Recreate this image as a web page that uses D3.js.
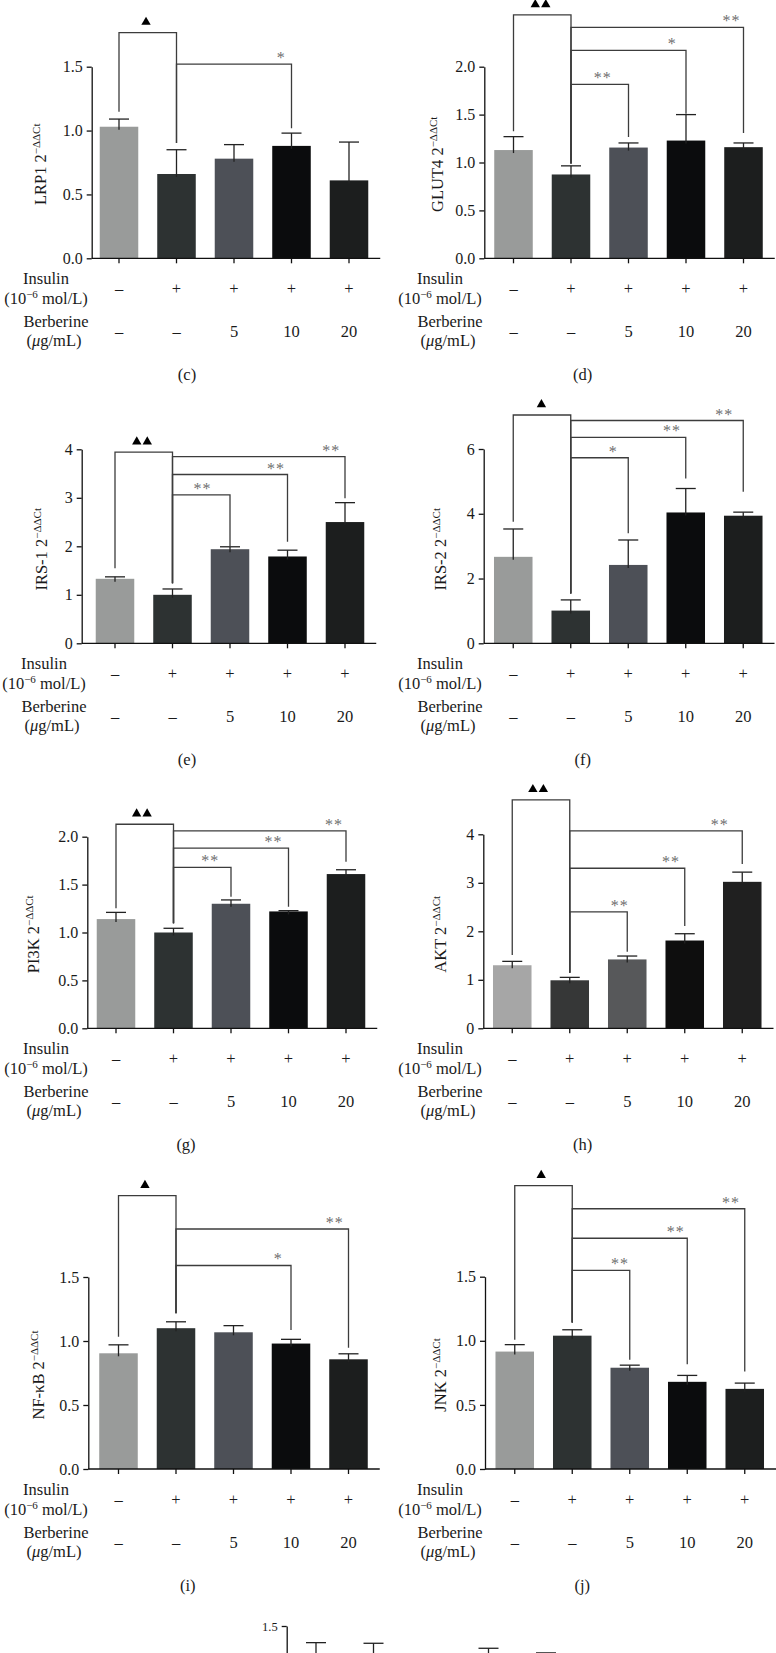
<!DOCTYPE html>
<html><head><meta charset="utf-8">
<script src="https://cdn.jsdelivr.net/npm/d3@7"></script>
<style>
body{margin:0;background:#fff}
svg{display:block}
text{font-family:"Liberation Serif","Times New Roman",serif;fill:#1a1a1a}
</style>
</head><body>
<svg id="chart" width="776" height="1653"></svg>
<script>
// ---------- data ----------
const groups = ["Control", "Insulin", "Insulin+BBR 5", "Insulin+BBR 10", "Insulin+BBR 20"];
const insulinSigns = ["–", "+", "+", "+", "+"];
const berberineDoses = ["–", "–", "5", "10", "20"];

const lrp1Mean = [1.03, 0.66, 0.78, 0.88, 0.61];
const lrp1Sd   = [0.06, 0.19, 0.11, 0.10, 0.30];
const lrp1Ticks = [0, 0.5, 1.0, 1.5];
// [from, to, bracket top, left leg end, right leg end, mark, label position along bracket]
const lrp1Sig = [[0, 1, 1.767, 1.148, 0.903, "▲", 0.47], [1, 3, 1.52, 0.903, 1.018, "*", 0.91]];

const glut4Mean = [1.13, 0.875, 1.156, 1.229, 1.16];
const glut4Sd   = [0.14, 0.09, 0.048, 0.271, 0.044];
const glut4Ticks = [0, 0.5, 1.0, 1.5, 2.0];
const glut4Sig = [[0, 1, 2.54, 1.326, 0.99, "▲▲", 0.47], [1, 4, 2.41, 0.99, 1.308, "**", 0.93],
                  [1, 3, 2.17, 0.99, 1.51, "*", 0.88], [1, 2, 1.815, 0.99, 1.267, "**", 0.55]];

const irs1Mean = [1.33, 1.0, 1.94, 1.79, 2.5];
const irs1Sd   = [0.04, 0.12, 0.05, 0.13, 0.40];
const irs1Ticks = [0, 1, 2, 3, 4];
const irs1Sig = [[0, 1, 3.94, 1.546, 1.237, "▲▲", 0.47], [1, 4, 3.85, 1.237, 2.99, "**", 0.92],
                 [1, 3, 3.48, 1.237, 2.095, "**", 0.9], [1, 2, 3.06, 1.237, 1.99, "**", 0.52]];

const irs2Mean = [2.67, 1.01, 2.42, 4.04, 3.94];
const irs2Sd   = [0.86, 0.33, 0.77, 0.74, 0.11];
const irs2Ticks = [0, 2, 4, 6];
const irs2Sig = [[0, 1, 7.05, 3.75, 1.54, "▲", 0.49], [1, 4, 6.88, 1.54, 4.68, "**", 0.89],
                 [1, 3, 6.36, 1.54, 5.09, "**", 0.88], [1, 2, 5.73, 1.54, 3.40, "*", 0.74]];

const pi3kMean = [1.14, 1.0, 1.30, 1.22, 1.61];
const pi3kSd   = [0.07, 0.044, 0.04, 0.008, 0.045];
const pi3kTicks = [0, 0.5, 1.0, 1.5, 2.0];
const pi3kSig = [[0, 1, 2.13, 1.253, 1.096, "▲▲", 0.45], [1, 4, 2.06, 1.096, 1.739, "**", 0.93],
                 [1, 3, 1.88, 1.096, 1.269, "**", 0.87], [1, 2, 1.68, 1.096, 1.374, "**", 0.64]];

const aktMean = [1.30, 0.99, 1.42, 1.81, 3.02];
const aktSd   = [0.08, 0.06, 0.07, 0.14, 0.20];
const aktTicks = [0, 1, 2, 3, 4];
const aktSig = [[0, 1, 4.71, 1.511, 1.146, "▲▲", 0.45], [1, 4, 4.07, 1.146, 3.388, "**", 0.87],
                [1, 3, 3.30, 1.146, 2.109, "**", 0.88], [1, 2, 2.40, 1.146, 1.579, "**", 0.87]];

const nfkbMean = [0.904, 1.10, 1.068, 0.98, 0.857];
const nfkbSd   = [0.066, 0.05, 0.052, 0.033, 0.043];
const nfkbTicks = [0, 0.5, 1.0, 1.5];
const nfkbSig = [[0, 1, 2.135, 1.034, 1.216, "▲", 0.46], [1, 4, 1.875, 1.216, 0.948, "**", 0.92],
                 [1, 3, 1.59, 1.216, 1.086, "*", 0.89]];

const jnkMean = [0.916, 1.04, 0.79, 0.68, 0.625];
const jnkSd   = [0.054, 0.046, 0.02, 0.05, 0.045];
const jnkTicks = [0, 0.5, 1.0, 1.5];
const jnkSig = [[0, 1, 2.21, 1.008, 1.143, "▲", 0.46], [1, 4, 2.03, 1.143, 0.76, "**", 0.92],
                [1, 3, 1.80, 1.143, 0.818, "**", 0.9], [1, 2, 1.55, 1.143, 0.852, "**", 0.83]];

// next panel, only its top is visible
const nextMean = [1.15, 1.16, 1.05, 1.14, 1.12];
const nextSd   = [0.22, 0.205, 0.10, 0.186, 0.17];
const nextTicks = [1.5];

const barColors = ["#999b9a", "#2d3232", "#4d5057", "#0b0c0d", "#1c1e1e"];
const aktColors = ["#a6a6a6", "#363737", "#57585a", "#0e0e0e", "#202020"];

// ---------- layout ----------
const LEFT_HX = 46, RIGHT_HX = 440;
const panels = [
  {name:"LRP1", mean:lrp1Mean, sd:lrp1Sd, ticks:lrp1Ticks, sig:lrp1Sig, ymax:1.5, fmt:".1f", colors:barColors,
   axisX:91.7, band0:90.25, y0:258.3, yTop:66.7, labX:46, hx:LEFT_HX, tag:"(c)", tagX:187},
  {name:"GLUT4", mean:glut4Mean, sd:glut4Sd, ticks:glut4Ticks, sig:glut4Sig, ymax:2.0, fmt:".1f", colors:barColors,
   axisX:484.3, band0:484.75, y0:258.3, yTop:66.7, labX:443, hx:RIGHT_HX, tag:"(d)", tagX:582.7},
  {name:"IRS-1", mean:irs1Mean, sd:irs1Sd, ticks:irs1Ticks, sig:irs1Sig, ymax:4, fmt:"d", colors:barColors,
   axisX:81.7, band0:86.25, y0:643.3, yTop:449.3, labX:47, hx:LEFT_HX - 2, tag:"(e)", tagX:187},
  {name:"IRS-2", mean:irs2Mean, sd:irs2Sd, ticks:irs2Ticks, sig:irs2Sig, ymax:6, fmt:"d", colors:barColors,
   axisX:483.7, band0:484.5, y0:643.3, yTop:449, labX:446, hx:RIGHT_HX, tag:"(f)", tagX:582.7},
  {name:"PI3K", mean:pi3kMean, sd:pi3kSd, ticks:pi3kTicks, sig:pi3kSig, ymax:2.0, fmt:".1f", colors:barColors,
   axisX:87.3, band0:87.25, y0:1028.3, yTop:836.7, labX:39, hx:LEFT_HX, tag:"(g)", tagX:186},
  {name:"AKT", mean:aktMean, sd:aktSd, ticks:aktTicks, sig:aktSig, ymax:4, fmt:"d", colors:aktColors,
   axisX:483.3, band0:483.5, y0:1028.3, yTop:834.3, labX:446, hx:RIGHT_HX, tag:"(h)", tagX:582.7},
  {name:"NF-κB", mean:nfkbMean, sd:nfkbSd, ticks:nfkbTicks, sig:nfkbSig, ymax:1.5, fmt:".1f", colors:barColors,
   axisX:88.3, band0:89.75, y0:1469, yTop:1277, labX:44, hx:LEFT_HX, tag:"(i)", tagX:187.7},
  {name:"JNK", mean:jnkMean, sd:jnkSd, ticks:jnkTicks, sig:jnkSig, ymax:1.5, fmt:".1f", colors:barColors,
   axisX:485, band0:486, y0:1469, yTop:1276.7, labX:446, hx:RIGHT_HX, tag:"(j)", tagX:582.3}
];

const svg = d3.select("#chart");
const AXIS = "#111", LINE = "#3c3c3c";
const SERIF = '"Liberation Serif","Times New Roman",serif';

function drawPanel(p, opts = {}) {
  const g = svg.append("g");
  const x = d3.scaleBand().domain(groups).range([p.band0, p.band0 + 287.5]).paddingInner(0.33).paddingOuter(0.165);
  const y = d3.scaleLinear().domain([0, p.ymax]).range([p.y0, p.yTop]);
  const cx = i => x(groups[i]) + x.bandwidth() / 2;

  // bars
  g.selectAll("rect.bar").data(p.mean).join("rect").attr("class", "bar")
    .attr("x", (d, i) => x(groups[i])).attr("width", x.bandwidth())
    .attr("y", d => y(d)).attr("height", d => y(0) - y(d))
    .attr("fill", (d, i) => p.colors[i]);

  // error bars
  const eb = g.selectAll("g.eb").data(p.mean).join("g").attr("class", "eb");
  eb.append("line").attr("x1", (d, i) => cx(i)).attr("x2", (d, i) => cx(i))
    .attr("y1", d => y(d) + 3).attr("y2", (d, i) => y(d + p.sd[i]))
    .attr("stroke", "#222").attr("stroke-width", 1.3);
  eb.append("line").attr("x1", (d, i) => cx(i) - 10).attr("x2", (d, i) => cx(i) + 10)
    .attr("y1", (d, i) => y(d + p.sd[i])).attr("y2", (d, i) => y(d + p.sd[i]))
    .attr("stroke", "#222").attr("stroke-width", 1.3);

  // y axis
  const fmt = p.fmt === "d" ? d3.format("d") : d3.format(".1f");
  const ya = g.append("g").attr("transform", `translate(${p.axisX},0)`)
    .call(d3.axisLeft(y).tickValues(p.ticks).tickSize(5).tickSizeOuter(0).tickPadding(4).tickFormat(fmt));
  ya.selectAll("path,line").attr("stroke", AXIS).attr("stroke-width", 1.3);
  ya.selectAll("text").attr("font-size", opts.tickSize || 16).attr("fill", "#1a1a1a")
    .style("font-family", SERIF);
  if (opts.partial) return;

  // x axis
  g.append("line").attr("x1", p.axisX).attr("x2", Math.min(776, p.band0 + 290))
    .attr("y1", p.y0).attr("y2", p.y0).attr("stroke", AXIS).attr("stroke-width", 1.3);
  const xa = g.append("g").attr("transform", `translate(0,${p.y0})`)
    .call(d3.axisBottom(x).tickSize(5).tickSizeOuter(0).tickFormat(""));
  xa.select(".domain").remove();
  xa.selectAll("line").attr("stroke", AXIS).attr("stroke-width", 1.3);

  // treatment rows
  g.selectAll("text.ins").data(insulinSigns).join("text").attr("class", "ins")
    .attr("x", (d, i) => cx(i)).attr("y", p.y0 + 36).attr("text-anchor", "middle")
    .attr("font-size", 16.5).text(d => d);
  g.selectAll("text.bbr").data(berberineDoses).join("text").attr("class", "bbr")
    .attr("x", (d, i) => cx(i)).attr("y", p.y0 + 78.5).attr("text-anchor", "middle")
    .attr("font-size", 16.5).text(d => d);

  const hx = p.hx;
  g.append("text").attr("x", hx).attr("y", p.y0 + 25.5).attr("text-anchor", "middle").attr("font-size", 16.5).text("Insulin");
  const t2 = g.append("text").attr("x", hx).attr("y", p.y0 + 45.5).attr("text-anchor", "middle").attr("font-size", 16.5);
  t2.append("tspan").text("(10");
  t2.append("tspan").attr("font-size", 11).attr("dy", -6).text("−6");
  t2.append("tspan").attr("dy", 6).text(" mol/L)");
  g.append("text").attr("x", hx + 10).attr("y", p.y0 + 69).attr("text-anchor", "middle").attr("font-size", 16.5).text("Berberine");
  const t4 = g.append("text").attr("x", hx + 8).attr("y", p.y0 + 87.5).attr("text-anchor", "middle").attr("font-size", 16.5);
  t4.append("tspan").text("(");
  t4.append("tspan").attr("font-style", "italic").text("μ");
  t4.append("tspan").text("g/mL)");

  // panel tag
  g.append("text").attr("x", p.tagX).attr("y", p.y0 + 121.5).attr("text-anchor", "middle").attr("font-size", 16.5).text(p.tag);

  // y label
  const yl = g.append("text").attr("transform", `translate(${p.labX},${p.y0 - 94}) rotate(-90)`)
    .attr("text-anchor", "middle").attr("font-size", 16.5);
  yl.append("tspan").text(p.name + " 2");
  yl.append("tspan").attr("font-size", 11).attr("dy", -6).text("−ΔΔCt");

  // significance brackets
  p.sig.forEach(([a, b, top, le, re, mark, t]) => {
    const xa1 = cx(a), xb1 = cx(b);
    g.append("path")
      .attr("d", `M${xa1},${y(le)}V${y(top)}H${xb1}V${y(re)}`)
      .attr("fill", "none").attr("stroke", LINE).attr("stroke-width", 1.3);
    const lx = xa1 + t * (xb1 - xa1);
    if (mark.startsWith("▲")) {
      const n = mark.length;
      const tri = d3.symbol(d3.symbolTriangle).size(38);
      for (let k = 0; k < n; k++) {
        const off = (k - (n - 1) / 2) * 10.5;
        g.append("path").attr("d", tri()).attr("fill", "#000")
          .attr("transform", `translate(${lx + off},${y(top) - 10.5})`);
      }
    } else {
      g.append("text").attr("x", lx).attr("y", y(top) - 1).attr("text-anchor", "middle")
        .attr("font-size", 16).attr("letter-spacing", 1).style("fill", "#6e6e6e").text(mark);
    }
  });
}

panels.forEach(p => drawPanel(p));

// partially visible next panel at the bottom
drawPanel({name:"", mean:nextMean, sd:nextSd, ticks:nextTicks, sig:[], ymax:1.5, fmt:".1f", colors:barColors,
  axisX:286.7, band0:287.25, y0:1626 + 1.5 * 128, yTop:1626}, {partial:true, tickSize:12.5});
</script>
</body></html>
